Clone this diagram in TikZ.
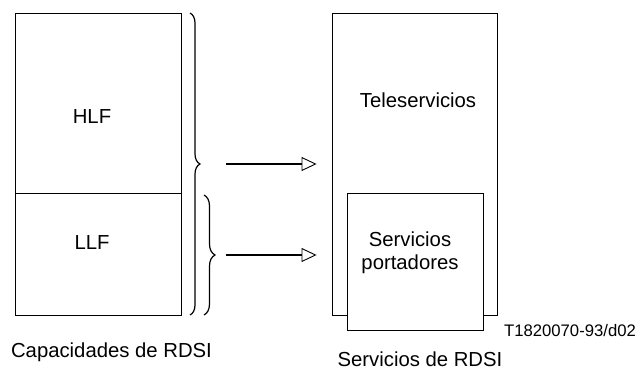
\documentclass[tikz,border=0pt]{standalone}
\usepackage{fontspec}
\setmainfont{Liberation Sans}
\usepackage{tikz}
\usetikzlibrary{positioning,arrows.meta,decorations.pathreplacing}

\begin{document}
\begin{tikzpicture}[
      x=1pt, y=-1pt,
      every node/.style={align=center, font=\fontsize{20.3}{23}\selectfont, inner sep=0pt},
      box/.style={draw, line width=0.9pt, fill=white},
      brace/.style={decorate, line width=1.2pt, decoration={brace, amplitude=#1}},
      arrow/.style={line width=1.2pt, -{Triangle[open, length=15pt, width=14pt, line width=0.9pt]}},
      tag/.style={font=\fontsize{16.7}{19}\selectfont}
    ]
      \useasboundingbox (0,0) rectangle (642,372);
      % Capacidades de RDSI
      \node[box, minimum width=166, minimum height=180] (hlf) at (98,103) {};
      \node[box, minimum width=166, minimum height=122] (llf) at (98,254) {};
      \node (hlftxt) at (92,117) {HLF};
      \node (llftxt) at (92,243) {LLF};
      \draw[line width=1.3pt] (hlf.south west) -- (hlf.south east);
      % Braces
      \coordinate (bigtop) at (190,13);
      \coordinate (bigbot) at (190,315);
      \coordinate (smalltop) at (204,195);
      \coordinate (smallbot) at (204,315);
      \draw[brace=10pt] (bigtop) -- (bigbot);
      \draw[brace=11pt] (smalltop) -- (smallbot);
      \coordinate (bigtip) at (200,164);
      \coordinate (smalltip) at (215,255);
      % Servicios de RDSI
      \node[box, minimum width=165, minimum height=302] (outer) at (414.5,164) {};
      \node[box, minimum width=136, minimum height=137] (inner) at (415,261.5) {};
      \node (teletxt) at (418,100) {Teleservicios};
      \node (bearertxt) at (410,253) {Servicios\\portadores};
      \draw[arrow, shorten <=26pt, shorten >=15pt] (bigtip) -- (outer.west |- bigtip);
      \draw[arrow, shorten <=11pt, shorten >=15pt] (smalltip) -- (outer.west |- smalltip);
      % Labels
      \node (caplabel) at (111.5,352) {Capacidades de RDSI};
      \node (servlabel) at (420,359) {Servicios de RDSI};
      \node[tag] (code) at (570,331) {T1820070-93/d02};
    \end{tikzpicture}
\end{document}
